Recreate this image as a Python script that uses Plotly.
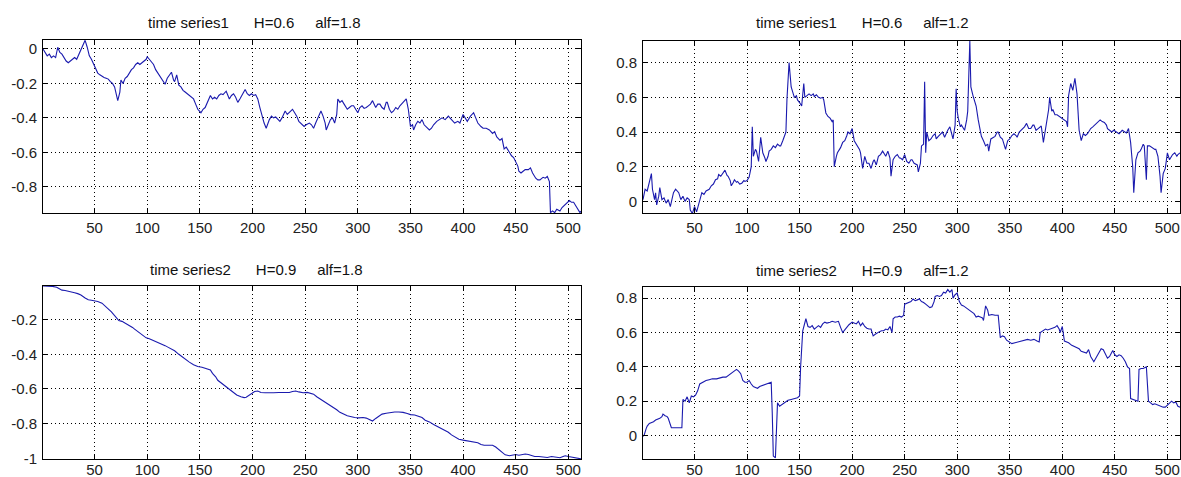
import plotly.graph_objects as go

# ---- data (x index, value) ----
ts1_alf18 = [
    (1, 0.0), (3, -0.02), (5, -0.04), (7, -0.03), (9, -0.05), (11, -0.04), (13, -0.05), (15, 0.01),
    (17, -0.02), (19, -0.03), (21, -0.05), (23, -0.07), (25, -0.08), (27, -0.07), (29, -0.06), (31, -0.05),
    (33, -0.06), (35, -0.03), (37, -0.01), (39, 0.02), (41, 0.05), (43, 0.01), (45, -0.04), (47, -0.06),
    (49, -0.09), (51, -0.12), (53, -0.14), (55, -0.15), (57, -0.16), (59, -0.165), (61, -0.17), (63, -0.175),
    (65, -0.19), (67, -0.2), (69, -0.22), (71, -0.27), (72, -0.30), (74, -0.25), (75, -0.18), (77, -0.2),
    (79, -0.17), (81, -0.16), (83, -0.14), (85, -0.12), (87, -0.11), (89, -0.09), (91, -0.08), (93, -0.09),
    (95, -0.08), (97, -0.07), (99, -0.06), (100, -0.045), (102, -0.06), (104, -0.07), (106, -0.09), (108, -0.12),
    (110, -0.14), (112, -0.16), (114, -0.18), (116, -0.2), (117, -0.205), (119, -0.17), (121, -0.15), (123, -0.135),
    (125, -0.18), (126, -0.19), (128, -0.15), (130, -0.21), (132, -0.22), (134, -0.24), (136, -0.25), (138, -0.26),
    (140, -0.27), (142, -0.28), (144, -0.29), (146, -0.32), (148, -0.35), (151, -0.37), (153, -0.35), (155, -0.34),
    (157, -0.31), (160, -0.27), (162, -0.29), (164, -0.28), (166, -0.29), (168, -0.27), (170, -0.26), (172, -0.265),
    (175, -0.245), (177, -0.27), (178, -0.29), (180, -0.27), (182, -0.26), (184, -0.28), (186, -0.31), (188, -0.29),
    (190, -0.27), (193, -0.235), (195, -0.26), (197, -0.27), (199, -0.26), (201, -0.27), (203, -0.265), (205, -0.29),
    (207, -0.34), (209, -0.39), (211, -0.43), (213, -0.46), (215, -0.42), (216, -0.41), (218, -0.39), (220, -0.4),
    (222, -0.395), (224, -0.41), (226, -0.42), (228, -0.4), (231, -0.36), (233, -0.38), (235, -0.37), (238, -0.35),
    (240, -0.37), (242, -0.39), (244, -0.42), (246, -0.43), (249, -0.45), (251, -0.44), (254, -0.43), (256, -0.44),
    (258, -0.46), (260, -0.43), (262, -0.4), (264, -0.37), (265, -0.36), (267, -0.39), (269, -0.43), (270, -0.47),
    (272, -0.44), (274, -0.41), (276, -0.40), (278, -0.43), (280, -0.38), (281, -0.29), (283, -0.31), (285, -0.30),
    (287, -0.32), (290, -0.35), (292, -0.34), (294, -0.33), (296, -0.33), (298, -0.35), (300, -0.37), (302, -0.34),
    (304, -0.33), (306, -0.345), (308, -0.34), (310, -0.33), (312, -0.32), (314, -0.30), (316, -0.33), (317, -0.34),
    (319, -0.32), (321, -0.32), (323, -0.34), (325, -0.35), (327, -0.31), (328, -0.31), (330, -0.35), (332, -0.37),
    (334, -0.36), (336, -0.34), (338, -0.35), (340, -0.33), (343, -0.31), (345, -0.30), (346, -0.29), (348, -0.35),
    (350, -0.45), (352, -0.44), (353, -0.47), (355, -0.44), (357, -0.42), (359, -0.43), (361, -0.41), (363, -0.44),
    (365, -0.45), (368, -0.47), (370, -0.46), (372, -0.44), (375, -0.42), (377, -0.41), (380, -0.40), (383, -0.41),
    (385, -0.40), (386, -0.39), (389, -0.41), (392, -0.43), (395, -0.42), (397, -0.43), (400, -0.38), (402, -0.40),
    (404, -0.42), (407, -0.39), (410, -0.37), (412, -0.40), (414, -0.43), (417, -0.45), (419, -0.46), (422, -0.46),
    (425, -0.47), (428, -0.49), (430, -0.48), (432, -0.51), (435, -0.53), (437, -0.52), (439, -0.58), (441, -0.57),
    (443, -0.59), (446, -0.62), (448, -0.63), (450, -0.66), (452, -0.68), (453, -0.71), (455, -0.72), (457, -0.71),
    (459, -0.70), (462, -0.70), (464, -0.69), (466, -0.72), (467, -0.73), (469, -0.75), (471, -0.76), (473, -0.76),
    (475, -0.75), (476, -0.745), (478, -0.75), (480, -0.74), (482, -0.77), (483, -0.95), (485, -0.94), (487, -0.95),
    (489, -0.93), (491, -0.94), (492, -0.94), (494, -0.92), (496, -0.91), (498, -0.90), (500, -0.89), (501, -0.88),
    (503, -0.89), (505, -0.89), (507, -0.91), (509, -0.93), (511, -0.95), (512, -0.94),
]

ts1_alf12 = [
    (1, 0.01), (2, 0.05), (3, 0.07), (5, 0.06), (7, 0.12), (9, 0.16), (10, 0.07), (12, 0.01), (13, 0.05),
    (14, -0.02), (16, 0.03), (17, 0.08), (19, 0.01), (21, 0.02), (23, -0.01), (25, 0.01), (27, -0.03), (29, 0.02),
    (30, 0.05), (32, 0.07), (35, 0.05), (37, 0.01), (39, 0.03), (41, 0.0), (43, 0.02), (45, 0.01), (46, -0.05),
    (48, -0.07), (50, -0.03), (52, -0.06), (55, 0.01), (57, 0.05), (59, 0.04), (61, 0.06), (64, 0.07), (66, 0.09),
    (68, 0.10), (70, 0.125), (72, 0.13), (73, 0.155), (75, 0.145), (77, 0.16), (79, 0.18), (81, 0.15), (82, 0.145),
    (84, 0.12), (85, 0.09), (87, 0.11), (88, 0.125), (90, 0.11), (91, 0.115), (93, 0.10), (95, 0.105), (97, 0.12),
    (98, 0.115), (100, 0.12), (102, 0.14), (104, 0.2), (105, 0.43), (106, 0.26), (108, 0.3), (109, 0.29), (111, 0.23),
    (113, 0.37), (115, 0.28), (117, 0.25), (118, 0.23), (120, 0.26), (121, 0.29), (123, 0.3), (125, 0.32), (127, 0.31),
    (129, 0.33), (131, 0.32), (132, 0.32), (134, 0.35), (135, 0.37), (137, 0.40), (138, 0.59), (140, 0.80), (142, 0.66),
    (144, 0.61), (145, 0.60), (147, 0.61), (148, 0.585), (150, 0.57), (152, 0.55), (154, 0.68), (155, 0.60), (157, 0.61),
    (159, 0.62), (161, 0.61), (163, 0.62), (164, 0.605), (166, 0.615), (168, 0.60), (170, 0.595), (172, 0.60),
    (173, 0.585), (175, 0.51), (177, 0.49), (179, 0.48), (181, 0.46), (182, 0.47), (183, 0.20), (185, 0.26), (186, 0.28),
    (188, 0.30), (189, 0.31), (191, 0.34), (193, 0.35), (195, 0.38), (196, 0.40), (198, 0.39), (200, 0.42), (202, 0.35),
    (204, 0.33), (205, 0.32), (207, 0.30), (208, 0.28), (210, 0.19), (212, 0.26), (214, 0.22), (216, 0.22), (218, 0.19),
    (220, 0.23), (221, 0.24), (223, 0.21), (225, 0.26), (227, 0.27), (229, 0.29), (231, 0.27), (232, 0.26), (234, 0.29),
    (236, 0.25), (237, 0.145), (239, 0.24), (241, 0.26), (243, 0.27), (245, 0.25), (246, 0.25), (248, 0.24), (250, 0.27),
    (252, 0.23), (254, 0.22), (256, 0.24), (257, 0.24), (259, 0.22), (262, 0.21), (263, 0.17), (265, 0.22), (266, 0.32),
    (268, 0.33), (269, 0.69), (270, 0.28), (271, 0.40), (273, 0.35), (275, 0.36), (277, 0.38), (279, 0.39), (280, 0.36),
    (282, 0.375), (284, 0.39), (286, 0.40), (288, 0.37), (289, 0.385), (291, 0.41), (293, 0.43), (295, 0.37), (296, 0.36),
    (298, 0.44), (299, 0.65), (300, 0.52), (301, 0.48), (303, 0.43), (304, 0.44), (306, 0.42), (307, 0.41), (309, 0.47),
    (310, 0.52), (312, 0.925), (313, 0.66), (315, 0.61), (318, 0.55), (320, 0.47), (322, 0.40), (323, 0.375), (325, 0.35),
    (327, 0.32), (329, 0.33), (330, 0.29), (332, 0.36), (334, 0.37), (336, 0.375), (338, 0.40), (339, 0.40), (341, 0.37),
    (343, 0.36), (345, 0.32), (346, 0.30), (348, 0.35), (350, 0.36), (352, 0.38), (354, 0.39), (356, 0.38), (357, 0.37),
    (359, 0.40), (362, 0.42), (364, 0.43), (366, 0.45), (368, 0.42), (370, 0.42), (372, 0.44), (373, 0.44), (375, 0.41),
    (377, 0.42), (379, 0.43), (380, 0.435), (382, 0.34), (384, 0.42), (386, 0.48), (387, 0.53), (388, 0.60), (390, 0.52),
    (391, 0.53), (393, 0.5), (395, 0.50), (397, 0.49), (398, 0.49), (400, 0.48), (402, 0.47), (404, 0.46), (405, 0.43),
    (406, 0.61), (408, 0.68), (410, 0.64), (412, 0.71), (414, 0.62), (416, 0.41), (418, 0.35), (420, 0.39), (422, 0.38),
    (424, 0.39), (425, 0.40), (427, 0.42), (429, 0.43), (431, 0.44), (433, 0.45), (436, 0.47), (438, 0.46), (440, 0.455),
    (442, 0.44), (443, 0.42), (445, 0.41), (447, 0.40), (449, 0.41), (452, 0.40), (454, 0.39), (457, 0.41), (459, 0.40),
    (461, 0.395), (463, 0.42), (465, 0.34), (467, 0.20), (468, 0.05), (470, 0.24), (472, 0.28), (474, 0.29), (475, 0.30),
    (477, 0.33), (478, 0.32), (480, 0.125), (481, 0.32), (483, 0.32), (485, 0.31), (486, 0.31), (488, 0.30), (489, 0.30),
    (491, 0.26), (493, 0.145), (494, 0.05), (496, 0.16), (498, 0.19), (500, 0.28), (502, 0.24), (504, 0.26), (505, 0.27),
    (507, 0.28), (509, 0.26), (510, 0.27), (512, 0.28),
]

ts2_alf18 = [
    (1, -0.005), (5, -0.006), (10, -0.008), (14, -0.013), (17, -0.022), (19, -0.03), (22, -0.032), (25, -0.035),
    (28, -0.04), (31, -0.045), (34, -0.05), (37, -0.058), (41, -0.075), (44, -0.085), (47, -0.088), (50, -0.09),
    (53, -0.095), (57, -0.105), (60, -0.12), (63, -0.14), (66, -0.155), (68, -0.17), (71, -0.19), (73, -0.205),
    (76, -0.21), (79, -0.22), (81, -0.225), (84, -0.235), (86, -0.245), (88, -0.255), (91, -0.27), (93, -0.28),
    (96, -0.295), (99, -0.305), (102, -0.31), (106, -0.32), (110, -0.33), (113, -0.34), (117, -0.35), (120, -0.36),
    (123, -0.37), (126, -0.38), (130, -0.4), (133, -0.415), (137, -0.43), (140, -0.445), (144, -0.46), (148, -0.47),
    (152, -0.475), (155, -0.48), (158, -0.485), (160, -0.49), (162, -0.51), (165, -0.53), (167, -0.55), (170, -0.565),
    (173, -0.58), (175, -0.59), (178, -0.6), (182, -0.62), (185, -0.635), (189, -0.645), (192, -0.65), (194, -0.648),
    (196, -0.64), (199, -0.625), (202, -0.615), (205, -0.612), (208, -0.62), (212, -0.622), (216, -0.62), (220, -0.622),
    (225, -0.62), (230, -0.62), (235, -0.62), (238, -0.615), (241, -0.612), (244, -0.617), (248, -0.622), (252, -0.62),
    (255, -0.625), (258, -0.63), (261, -0.645), (265, -0.66), (268, -0.675), (272, -0.69), (276, -0.705), (280, -0.72),
    (283, -0.735), (287, -0.745), (290, -0.755), (294, -0.76), (297, -0.765), (301, -0.767), (305, -0.765), (308, -0.768),
    (311, -0.775), (314, -0.785), (317, -0.77), (320, -0.755), (323, -0.745), (327, -0.74), (331, -0.735), (335, -0.733),
    (339, -0.733), (343, -0.735), (347, -0.742), (350, -0.748), (354, -0.75), (357, -0.755), (361, -0.765), (364, -0.78),
    (368, -0.79), (372, -0.805), (375, -0.815), (379, -0.825), (382, -0.835), (386, -0.85), (389, -0.865), (393, -0.88),
    (396, -0.89), (400, -0.895), (404, -0.9), (407, -0.905), (410, -0.905), (414, -0.91), (417, -0.92), (420, -0.925),
    (424, -0.925), (428, -0.925), (431, -0.935), (434, -0.95), (437, -0.97), (440, -0.98), (444, -0.985), (447, -0.98),
    (450, -0.978), (453, -0.982), (456, -0.98), (459, -0.975), (462, -0.978), (465, -0.985), (468, -0.99), (472, -0.99),
    (476, -0.993), (480, -0.995), (484, -0.99), (488, -0.995), (492, -0.997), (495, -0.99), (497, -0.985), (500, -0.99),
    (503, -0.993), (506, -0.995), (509, -1.0), (512, -1.003),
]

ts2_alf12 = [
    (1, -0.005), (2, 0.0), (4, 0.04), (5, 0.055), (7, 0.07), (9, 0.075), (11, 0.08), (13, 0.09), (15, 0.095),
    (17, 0.10), (19, 0.11), (20, 0.125), (22, 0.115), (24, 0.11), (25, 0.10), (27, 0.06), (28, 0.045), (30, 0.045),
    (33, 0.045), (36, 0.045), (38, 0.045), (39, 0.21), (41, 0.2), (43, 0.225), (44, 0.2), (45, 0.19), (47, 0.23),
    (49, 0.225), (51, 0.235), (53, 0.26), (55, 0.3), (58, 0.31), (61, 0.32), (64, 0.325), (67, 0.33), (71, 0.33),
    (74, 0.335), (77, 0.34), (80, 0.34), (82, 0.35), (84, 0.36), (86, 0.37), (88, 0.375), (90, 0.385), (92, 0.375),
    (94, 0.36), (96, 0.32), (98, 0.31), (100, 0.31), (102, 0.32), (104, 0.3), (106, 0.285), (108, 0.28), (110, 0.275),
    (112, 0.285), (114, 0.29), (116, 0.295), (118, 0.3), (120, 0.305), (122, 0.31), (123, 0.31), (124, 0.13),
    (125, -0.12), (127, -0.13), (128, 0.05), (129, 0.19), (131, 0.17), (134, 0.185), (137, 0.195), (139, 0.205),
    (142, 0.21), (145, 0.215), (148, 0.22), (150, 0.23), (151, 0.40), (153, 0.61), (155, 0.66), (156, 0.68),
    (158, 0.635), (160, 0.63), (162, 0.64), (164, 0.62), (166, 0.63), (168, 0.64), (170, 0.63), (172, 0.65),
    (174, 0.66), (176, 0.655), (179, 0.66), (181, 0.665), (184, 0.66), (187, 0.665), (189, 0.63), (191, 0.60),
    (193, 0.615), (195, 0.63), (197, 0.645), (200, 0.66), (202, 0.655), (204, 0.65), (206, 0.665), (208, 0.64),
    (210, 0.655), (212, 0.635), (214, 0.625), (216, 0.62), (218, 0.62), (220, 0.58), (222, 0.59), (224, 0.60),
    (226, 0.605), (228, 0.61), (230, 0.61), (232, 0.62), (234, 0.615), (236, 0.635), (238, 0.60), (239, 0.68),
    (241, 0.69), (243, 0.69), (245, 0.695), (247, 0.69), (249, 0.70), (250, 0.765), (252, 0.77), (254, 0.775),
    (256, 0.78), (258, 0.795), (260, 0.785), (262, 0.79), (264, 0.795), (266, 0.78), (268, 0.775), (270, 0.765),
    (272, 0.755), (274, 0.745), (276, 0.75), (278, 0.78), (279, 0.81), (281, 0.815), (283, 0.81), (285, 0.815),
    (287, 0.835), (289, 0.83), (291, 0.85), (293, 0.835), (295, 0.85), (296, 0.80), (298, 0.82), (300, 0.83),
    (302, 0.78), (304, 0.76), (306, 0.755), (308, 0.745), (310, 0.74), (312, 0.73), (314, 0.72), (316, 0.71),
    (318, 0.69), (320, 0.695), (322, 0.69), (324, 0.685), (325, 0.67), (327, 0.755), (329, 0.73), (330, 0.70),
    (333, 0.705), (336, 0.70), (339, 0.70), (341, 0.57), (343, 0.58), (345, 0.575), (347, 0.555), (349, 0.545),
    (352, 0.535), (355, 0.54), (358, 0.545), (361, 0.55), (364, 0.555), (367, 0.56), (370, 0.555), (373, 0.56),
    (376, 0.55), (378, 0.545), (379, 0.60), (381, 0.61), (384, 0.62), (386, 0.615), (389, 0.62), (391, 0.625),
    (393, 0.63), (395, 0.64), (397, 0.62), (398, 0.60), (400, 0.635), (402, 0.55), (404, 0.545), (406, 0.54),
    (409, 0.525), (411, 0.52), (414, 0.51), (416, 0.505), (418, 0.49), (420, 0.485), (423, 0.48), (425, 0.50),
    (427, 0.46), (430, 0.43), (432, 0.45), (434, 0.47), (436, 0.49), (437, 0.505), (439, 0.50), (441, 0.475),
    (443, 0.45), (445, 0.46), (447, 0.48), (448, 0.495), (450, 0.47), (452, 0.46), (454, 0.47), (456, 0.465),
    (458, 0.45), (460, 0.43), (462, 0.40), (464, 0.39), (465, 0.215), (467, 0.21), (470, 0.205), (472, 0.20),
    (473, 0.385), (475, 0.39), (477, 0.39), (479, 0.395), (480, 0.40), (481, 0.30), (482, 0.20), (484, 0.19),
    (486, 0.18), (488, 0.185), (490, 0.18), (492, 0.175), (494, 0.17), (496, 0.165), (498, 0.165), (500, 0.175),
    (502, 0.19), (504, 0.20), (506, 0.19), (508, 0.195), (510, 0.17), (512, 0.165),
]

titles = [
    "time series1      H=0.6     alf=1.8",
    "time series1      H=0.6     alf=1.2",
    "time series2      H=0.9     alf=1.8",
    "time series2      H=0.9     alf=1.2",
]

x_ticks = [50, 100, 150, 200, 250, 300, 350, 400, 450, 500]
y_ticks_tl = [-0.8, -0.6, -0.4, -0.2, 0]
y_ticks_tr = [0, 0.2, 0.4, 0.6, 0.8]
y_ticks_bl = [-1, -0.8, -0.6, -0.4, -0.2]
y_ticks_br = [0, 0.2, 0.4, 0.6, 0.8]

# ---- figure ----
W, H = 1181, 477
LINE = "#1a1aae"
FONT = "Liberation Sans, Arial, sans-serif"


def fmt(v):
    return "%g" % v


panels = [
    # series, yticks, yrange, x-pixel domain, y-pixel domain (top, bottom), title center px, x-label standoff
    (ts1_alf18, y_ticks_tl, [-0.952, 0.052], (43, 581), (40, 213), (254, 23), 1),
    (ts1_alf12, y_ticks_tr, [-0.067, 0.925], (643, 1180), (41, 213), (862, 23), 1),
    (ts2_alf18, y_ticks_bl, [-1.004, -0.006], (43, 581), (286, 459), (256, 269), -3),
    (ts2_alf12, y_ticks_br, [-0.137, 0.865], (643, 1180), (287, 459), (862, 270), -3),
]

fig = go.Figure()
layout = dict(
    width=W, height=H,
    margin=dict(l=0, r=0, t=0, b=0),
    paper_bgcolor="white", plot_bgcolor="white",
    showlegend=False,
    font=dict(family=FONT, size=15, color="#222"),
    annotations=[],
)

for i, (series, yt, yr, (xl, xr), (yt_px, yb_px), (tx, ty), xso) in enumerate(panels):
    n = "" if i == 0 else str(i + 1)
    xs = [p[0] for p in series]
    ys = [p[1] for p in series]
    fig.add_trace(go.Scatter(
        x=xs, y=ys, mode="lines",
        line=dict(color=LINE, width=1.1),
        xaxis="x" + n, yaxis="y" + n, hoverinfo="skip",
    ))
    common = dict(
        showline=True, linecolor="#000", linewidth=1, mirror="ticks",
        ticks="inside", ticklen=5, tickcolor="#000", tickwidth=1,
        showgrid=True, gridcolor="#000", gridwidth=1, griddash="1px,3px",
        zeroline=False, automargin=False,
        tickfont=dict(family=FONT, size=15, color="#222"),
    )
    layout["xaxis" + n] = dict(
        common,
        domain=[xl / W, xr / W], range=[1, 512],
        tickmode="array", tickvals=x_ticks, ticktext=[str(v) for v in x_ticks],
        anchor="y" + n, ticklabelstandoff=xso,
    )
    layout["yaxis" + n] = dict(
        common,
        domain=[1 - yb_px / H, 1 - yt_px / H], range=yr,
        tickmode="array", tickvals=yt, ticktext=[fmt(v) for v in yt],
        anchor="x" + n, ticklabelstandoff=2,
    )
    layout["annotations"].append(dict(
        text=titles[i].replace(" ", "\u00a0"),
        x=tx / W, y=1 - ty / H, xref="paper", yref="paper",
        xanchor="center", yanchor="middle", showarrow=False,
        font=dict(family=FONT, size=15, color="#111"),
    ))

fig.update_layout(**layout)
fig.write_html("out.html")
